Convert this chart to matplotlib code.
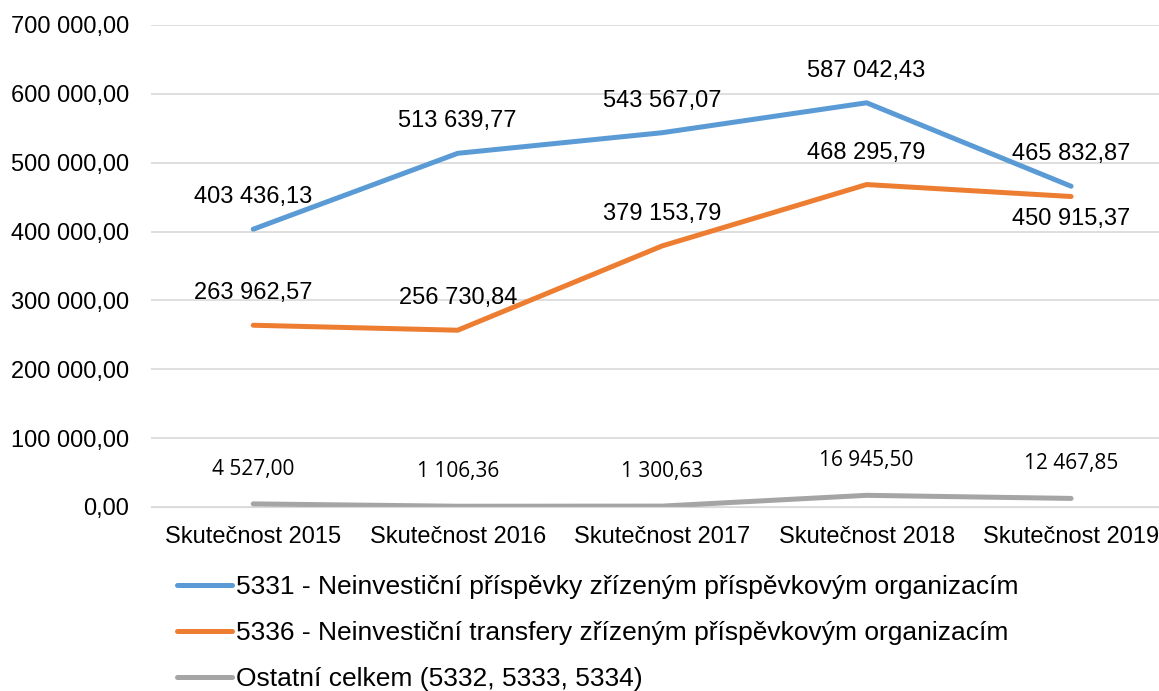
import matplotlib.pyplot as plt
import matplotlib
from matplotlib.ticker import FuncFormatter

matplotlib.rcParams['font.family'] = ['Liberation Sans', 'DejaVu Sans']

# data
kategorie = ['Skutečnost 2015', 'Skutečnost 2016', 'Skutečnost 2017', 'Skutečnost 2018', 'Skutečnost 2019']
s5331 = [403436.13, 513639.77, 543567.07, 587042.43, 465832.87]
s5336 = [263962.57, 256730.84, 379153.79, 468295.79, 450915.37]
ostatni = [4527.00, 1106.36, 1300.63, 16945.50, 12467.85]

nazvy = ['5331 - Neinvestiční příspěvky zřízeným příspěvkovým organizacím',
         '5336 - Neinvestiční transfery zřízeným příspěvkovým organizacím',
         'Ostatní celkem (5332, 5333, 5334)']
barvy = ['#5B9BD5', '#ED7D31', '#A5A5A5']


def cz(v, pos=None):
    return f"{v:,.2f}".replace(",", " ").replace(".", ",")


fig = plt.figure(figsize=(11.59, 6.91), dpi=100)
ax = fig.add_axes([151 / 1159, 184 / 691, 1008 / 1159, 482 / 691])

x = range(len(kategorie))
for data, barva, nazev in zip([s5331, s5336, ostatni], barvy, nazvy):
    ax.plot(x, data, color=barva, linewidth=3.6, solid_capstyle='round', label=nazev)

# popisky hodnot
for i, v in enumerate(s5331):
    ax.annotate(cz(v), (i, v), xytext=(0, 23), textcoords='offset points',
                ha='center', va='center', fontsize=17)
for i, v in enumerate(s5336):
    off = -16 if i == 4 else 23
    ax.annotate(cz(v), (i, v), xytext=(0, off), textcoords='offset points',
                ha='center', va='center', fontsize=17)
for i, v in enumerate(ostatni):
    ax.annotate(cz(v), (i, v), xytext=(0, 25), textcoords='offset points',
                ha='center', va='center', fontsize=15, family=['Open Sans', 'DejaVu Sans'])

ax.set_xlim(-0.5, 4.43)
ax.set_ylim(0, 700000)
ax.set_yticks(range(0, 700001, 100000))
ax.yaxis.set_major_formatter(FuncFormatter(cz))
ax.set_xticks(list(x))
ax.set_xticklabels(kategorie)
ax.tick_params(axis='y', length=0, labelsize=17, pad=16)
ax.tick_params(axis='x', length=0, labelsize=17, pad=14)
ax.grid(axis='y', color='#D9D9D9', linewidth=1.2)
ax.set_axisbelow(True)
for s in ['top', 'right', 'left']:
    ax.spines[s].set_visible(False)
ax.spines['bottom'].set_color('#D9D9D9')

fig.legend(loc='upper left', bbox_to_anchor=(177 / 1159, 1 - 575 / 691), frameon=False,
           fontsize=19, handlelength=2.1, handletextpad=0.15, labelspacing=0.83,
           borderaxespad=0, borderpad=0)

plt.savefig('out.png', dpi=100)
